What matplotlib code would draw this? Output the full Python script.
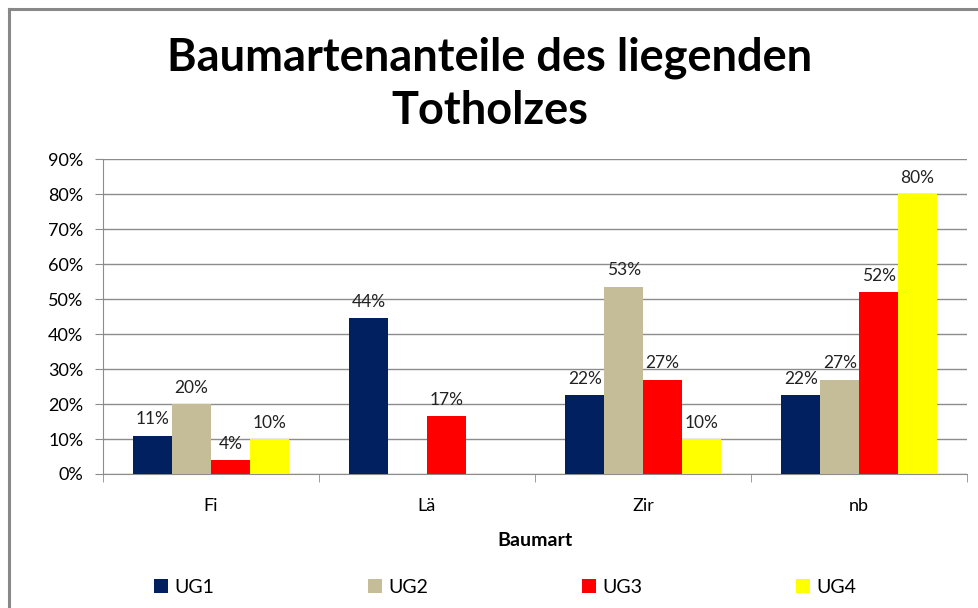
import numpy as np
import matplotlib.pyplot as plt
from matplotlib.lines import Line2D

# Data
categories = ["Fi", "Lä", "Zir", "nb"]
series_names = ["UG1", "UG2", "UG3", "UG4"]
ug1 = [0.11, 0.445, 0.225, 0.225]
ug2 = [0.20, np.nan, 0.535, 0.27]
ug3 = [0.04, 0.165, 0.27, 0.52]
ug4 = [0.10, np.nan, 0.10, 0.80]
labels1 = ["11%", "44%", "22%", "22%"]
labels2 = ["20%", "", "53%", "27%"]
labels3 = ["4%", "17%", "27%", "52%"]
labels4 = ["10%", "", "10%", "80%"]
colors = ["#002060", "#c4bd97", "#ff0000", "#ffff00"]

plt.rcParams["font.family"] = ["Lato", "DejaVu Sans"]

fig = plt.figure(figsize=(9.79, 6.08), dpi=100)
ax = fig.add_axes([0.105, 0.2204, 0.883, 0.518])

x = np.arange(len(categories))
width = 0.18
all_vals = [ug1, ug2, ug3, ug4]
all_labels = [labels1, labels2, labels3, labels4]

for i, (vals, labs) in enumerate(zip(all_vals, all_labels)):
    pos = x + (i - 1.5) * width
    bars = ax.bar(pos, vals, width, color=colors[i], label=series_names[i], zorder=3)
    for b, v, lab in zip(bars, vals, labs):
        if lab:
            ax.annotate(lab, (b.get_x() + b.get_width() / 2, v), xytext=(0, 6),
                        textcoords="offset points", ha="center", va="bottom",
                        fontsize=12.5, color="#222222")

ax.set_xlim(-0.5, 3.5)
ax.set_ylim(0, 0.9)
ax.set_yticks(np.arange(0, 0.91, 0.1))
ax.set_yticklabels([f"{int(round(t * 100))}%" for t in np.arange(0, 0.91, 0.1)], fontsize=13)
ax.yaxis.grid(True, color="#8c8c8c", linewidth=1, zorder=0)
ax.set_axisbelow(True)

ax.set_xticks(x)
ax.set_xticklabels(categories, fontsize=13)
ax.tick_params(axis="x", length=0, pad=17)
ax.set_xticks(np.arange(-0.5, 4.0, 1.0), minor=True)
ax.tick_params(axis="x", which="minor", length=6, color="#8c8c8c")
ax.tick_params(axis="y", length=6, color="#8c8c8c", pad=8)

for s in ["top", "right"]:
    ax.spines[s].set_visible(False)
for s in ["left", "bottom"]:
    ax.spines[s].set_color("#8c8c8c")

ax.set_xlabel("Baumart", fontsize=14, fontweight="bold", labelpad=13)

fig.suptitle("Baumartenanteile des liegenden\nTotholzes", fontsize=32.5, fontweight="bold",
             x=0.5, y=0.94, linespacing=1.32)

ax.legend(loc="upper center", bbox_to_anchor=(0.465, -0.278), ncol=4, frameon=False,
          fontsize=14, handlelength=0.75, handleheight=0.75, columnspacing=7.9,
          handletextpad=0.3)

# outer chart frame (cropped)
fig.add_artist(Line2D([0.0095, 0.0095], [0, 0.985], transform=fig.transFigure,
                      color="#888888", linewidth=2.2))
fig.add_artist(Line2D([0.0095, 1.0], [0.985, 0.985], transform=fig.transFigure,
                      color="#888888", linewidth=2.2))

fig.savefig("out.png", dpi=100)
